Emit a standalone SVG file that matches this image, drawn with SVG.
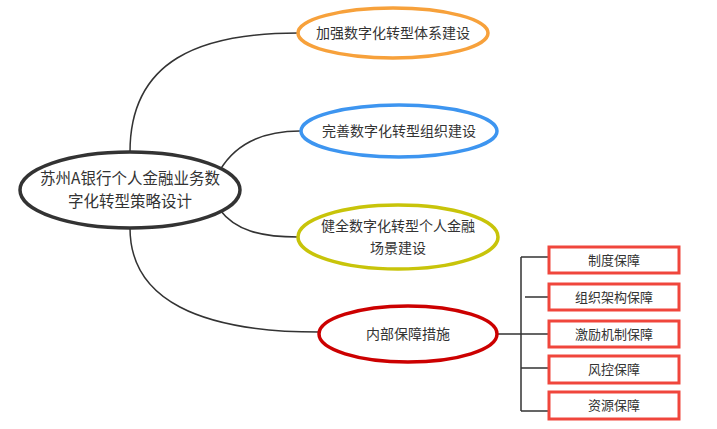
<svg xmlns="http://www.w3.org/2000/svg" width="717" height="429" viewBox="0 0 717 429">
<style>
text{font-family:"Noto Sans CJK SC","Noto Sans",sans-serif;fill:#333;text-anchor:middle}
.c{fill:none;stroke:#333;stroke-width:1.5}
.b{fill:#fff;stroke:#f0463c;stroke-width:3}
.bt{font-size:13px}
.e{fill:#fff;stroke-width:3.5}
</style>
<rect width="717" height="429" fill="#fff"/>
<g id="connectors">
<path class="c" d="M130,152 C130,60 200,33 298,33"/>
<path class="c" d="M220,170 C235,145 260,131 300,131"/>
<path class="c" d="M220,210 C235,230 260,237 298,237"/>
<path class="c" d="M130,228 C130,300 200,332 319,332"/>
<path class="c" d="M497,334 H521 M521,257 V411 M521,257 H549 M525,297 H549 M521,334 H549 M521,368 H549 M521,411 H549"/>
</g>
<g id="root"><ellipse class="e" stroke="#333" cx="130" cy="190" rx="110" ry="38"/>
<text x="130" y="184" font-size="15.5">苏州A银行个人金融业务数</text><text x="130" y="207" font-size="15.5">字化转型策略设计</text></g>
<g id="n1"><ellipse class="e" stroke="#f7a13b" cx="393" cy="33" rx="95" ry="25"/><text x="393" y="38" font-size="14">加强数字化转型体系建设</text></g>
<g id="n2"><ellipse class="e" stroke="#3d95f0" cx="399" cy="131" rx="98" ry="26"/><text x="399" y="136" font-size="14">完善数字化转型组织建设</text></g>
<g id="n3"><ellipse class="e" stroke="#c8c40a" cx="398" cy="237" rx="100" ry="32"/><text x="398" y="231" font-size="14">健全数字化转型个人金融</text><text x="398" y="253" font-size="14">场景建设</text></g>
<g id="n4"><ellipse class="e" stroke="#cc0000" cx="408" cy="334" rx="89" ry="28"/><text x="408" y="339" font-size="14">内部保障措施</text></g>
<g id="b1"><rect class="b" x="549" y="247" width="130" height="26"/><text class="bt" x="614" y="265">制度保障</text></g>
<g id="b2"><rect class="b" x="549" y="284" width="130" height="26"/><text class="bt" x="614" y="302">组织架构保障</text></g>
<g id="b3"><rect class="b" x="549" y="321" width="130" height="26"/><text class="bt" x="614" y="339">激励机制保障</text></g>
<g id="b4"><rect class="b" x="549" y="356" width="130" height="27"/><text class="bt" x="614" y="374">风控保障</text></g>
<g id="b5"><rect class="b" x="549" y="392" width="130" height="27"/><text class="bt" x="614" y="410">资源保障</text></g>
</svg>
